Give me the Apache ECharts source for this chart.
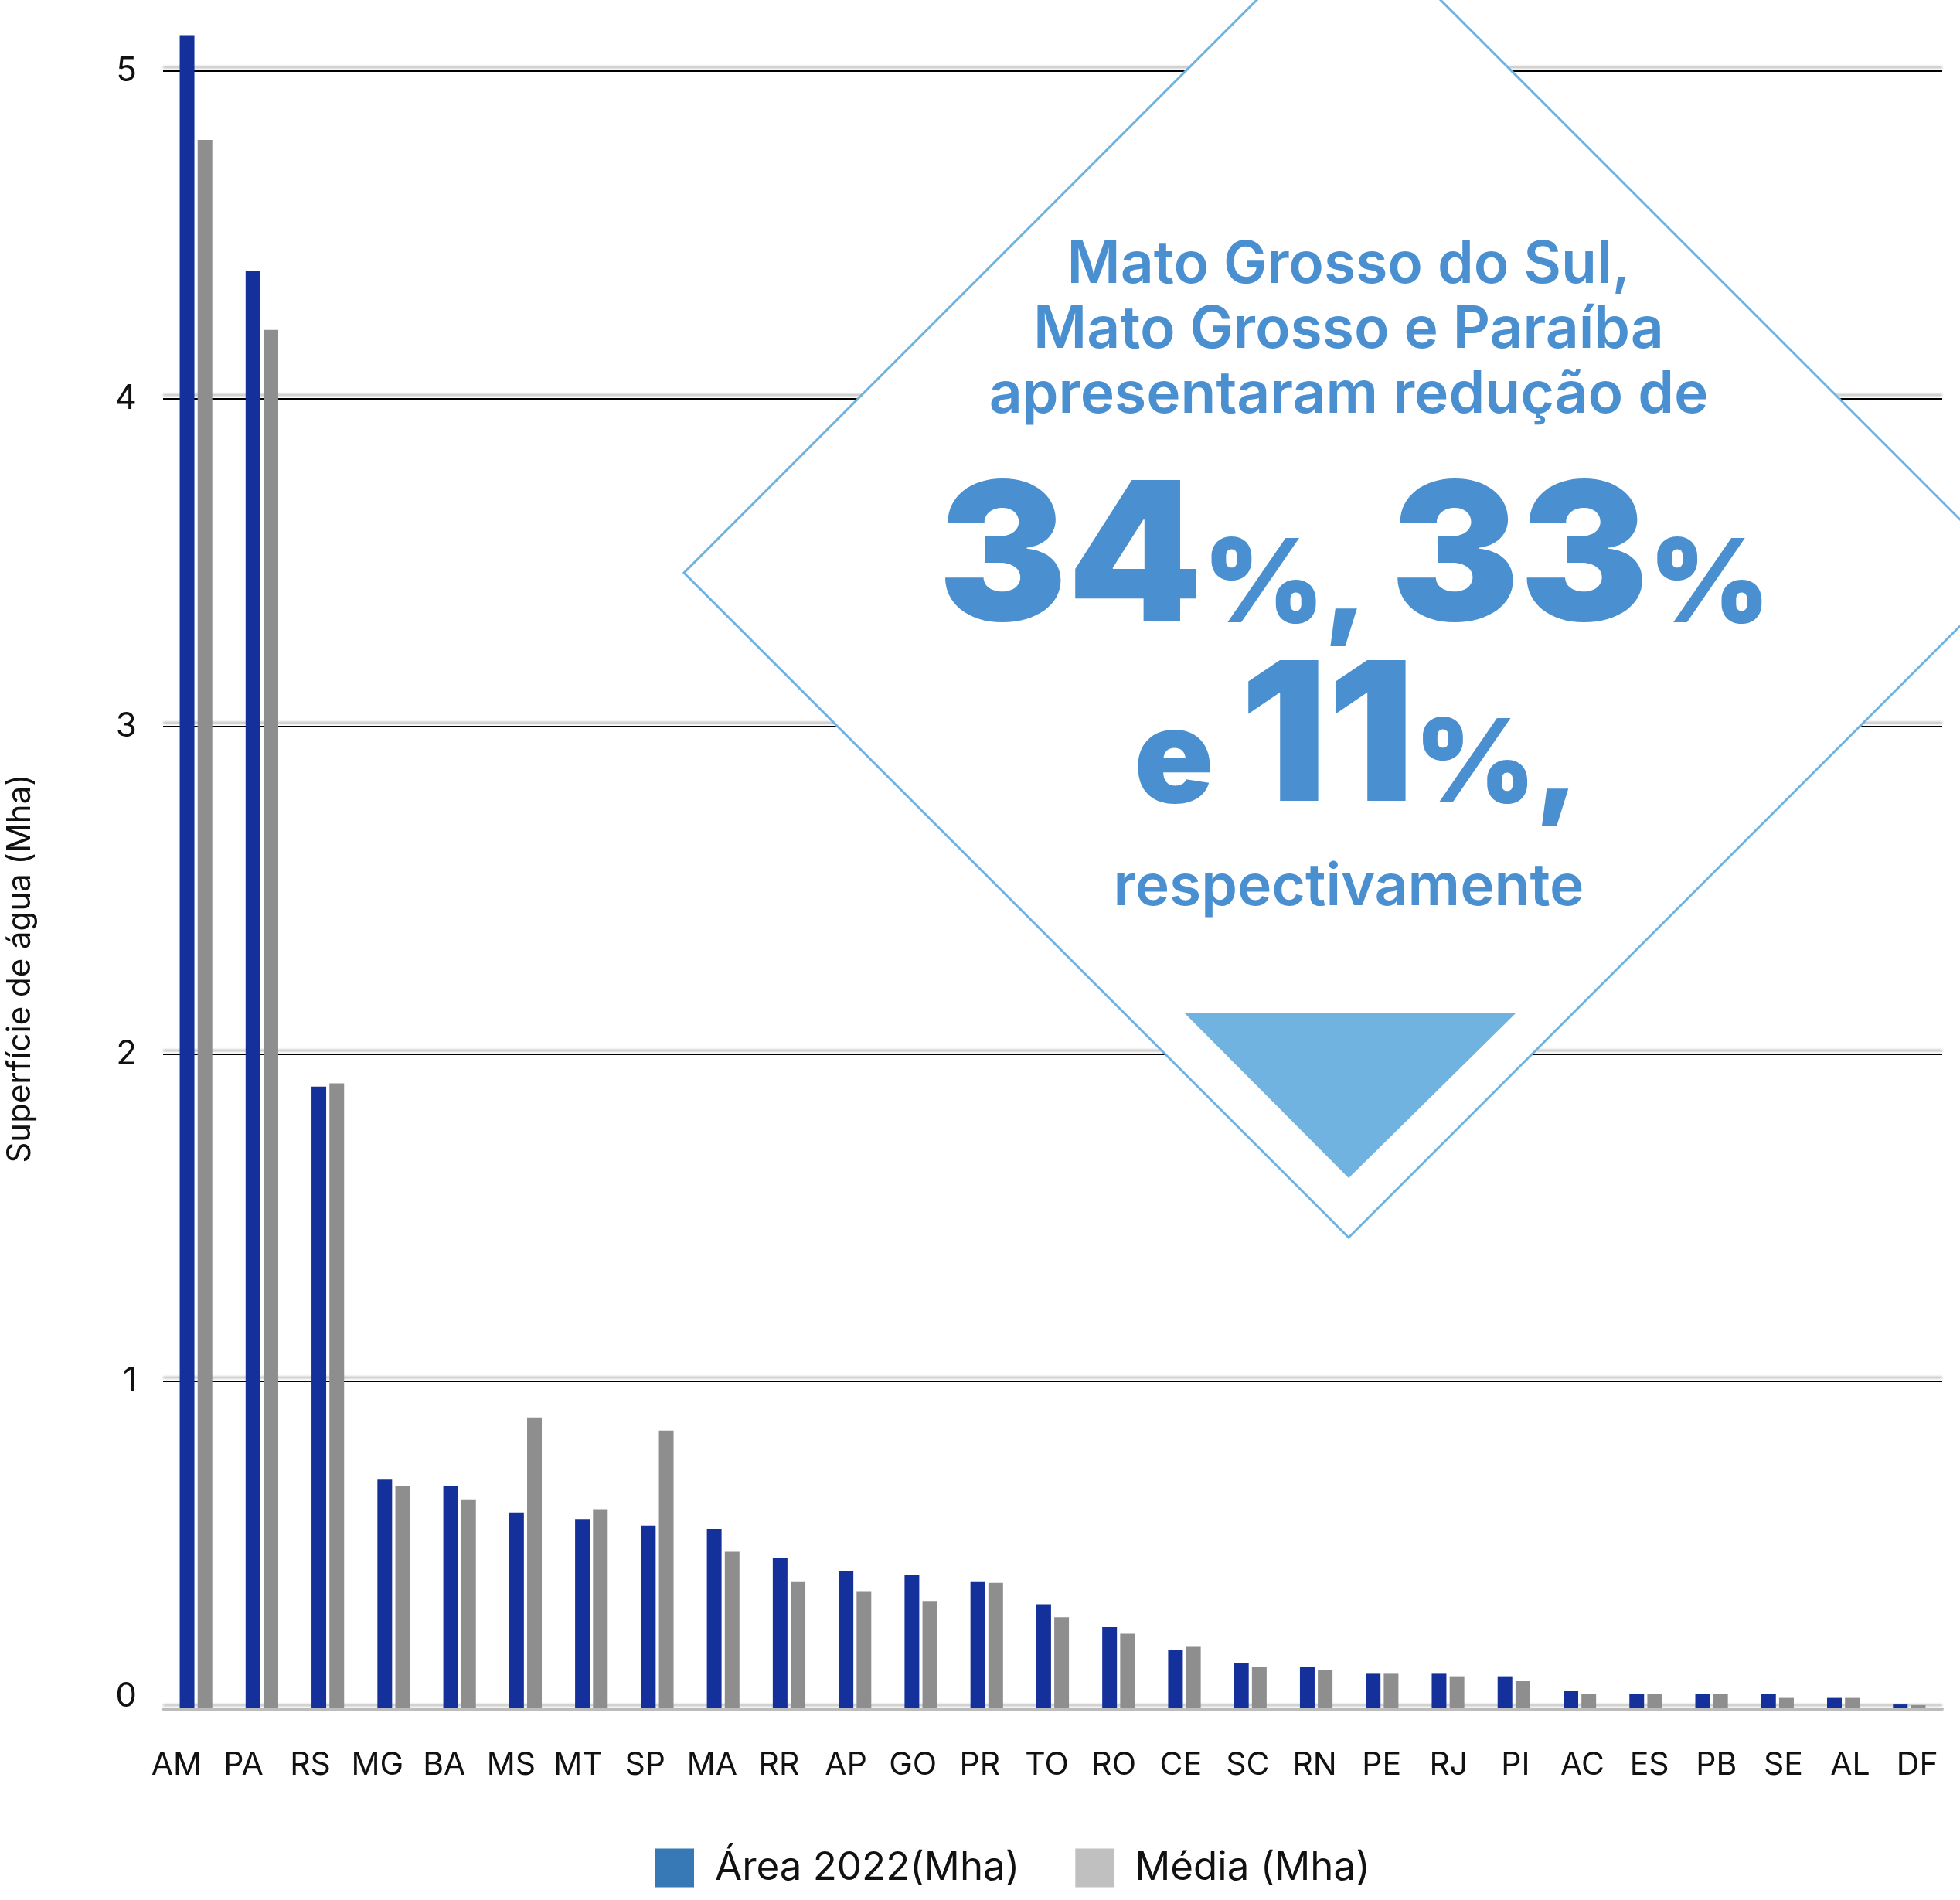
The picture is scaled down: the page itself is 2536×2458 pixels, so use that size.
<!DOCTYPE html>
<html>
<head>
<meta charset="utf-8">
<script src="https://cdn.jsdelivr.net/npm/echarts@6/dist/echarts.min.js"></script>
<style>
  html, body { margin: 0; padding: 0; background: #fff; }
  #chart { width: 2536px; height: 2458px; }
</style>
</head>
<body>
<div id="chart"></div>
<script>
// Superfície de água por estado (Mha)
const categories = ['AM','PA','RS','MG','BA','MS','MT','SP','MA','RR','AP','GO','PR','TO','RO','CE','SC','RN','PE','RJ','PI','AC','ES','PB','SE','AL','DF'];
const area2022 = [5.11, 4.39, 1.90, 0.70, 0.68, 0.60, 0.58, 0.56, 0.55, 0.46, 0.42, 0.41, 0.39, 0.32, 0.25, 0.18, 0.14, 0.13, 0.11, 0.11, 0.10, 0.055, 0.045, 0.045, 0.045, 0.034, 0.014];
const media = [4.79, 4.21, 1.91, 0.68, 0.64, 0.89, 0.61, 0.85, 0.48, 0.39, 0.36, 0.33, 0.385, 0.28, 0.23, 0.19, 0.13, 0.12, 0.11, 0.10, 0.085, 0.045, 0.045, 0.045, 0.034, 0.034, 0.012];
const seriesNames = ['Área 2022(Mha)', 'Média (Mha)'];
const yAxisTitle = 'Superfície de água (Mha)';

const FONT = 'Inter, "Noto Sans", sans-serif';
const TXT_BLUE = '#4a90d0';

const chart = echarts.init(document.getElementById('chart'), null, { renderer: 'canvas' });

// big-number rich styles; bottom padding lifts the smaller glyphs onto the digits' baseline
const bigNum = { fontSize: 250, fontWeight: 900, fontFamily: FONT, fill: TXT_BLUE, verticalAlign: 'bottom' };
const bigPct = { fontSize: 150, fontWeight: 900, fontFamily: FONT, fill: TXT_BLUE, verticalAlign: 'bottom', padding: [0, 0, 18, 0] };
const bigE   = { fontSize: 170, fontWeight: 900, fontFamily: FONT, fill: TXT_BLUE, verticalAlign: 'bottom', padding: [0, 0, 14, 0] };

chart.setOption({
  animation: false,
  backgroundColor: '#ffffff',
  grid: [
    { left: 211, right: 23, top: 92, bottom: 247 },
    { left: 185, right: 12, top: 92, bottom: 247 }
  ],
  legend: {
    left: 843, top: 2386,
    itemWidth: 50, itemHeight: 50, itemGap: 72,
    icon: 'rect',
    textStyle: { fontSize: 51, fontFamily: FONT, color: '#111', padding: [0, 0, 0, 22] },
    data: [
      { name: seriesNames[0], itemStyle: { color: '#3778b7' } },
      { name: seriesNames[1], itemStyle: { color: '#c0c0c0' } }
    ]
  },
  xAxis: [
    {
      type: 'category', gridIndex: 0, data: categories, z: 5,
      axisLine: { show: true, lineStyle: { color: '#bcbcbc', width: 4 } },
      axisTick: { show: false },
      axisLabel: { show: false }
    },
    {
      type: 'category', gridIndex: 1, data: categories,
      axisLine: { show: false },
      axisTick: { show: false },
      axisLabel: { interval: 0, fontSize: 41, fontFamily: FONT, color: '#111', margin: 52 }
    }
  ],
  yAxis: [
    {
      type: 'value', gridIndex: 0, min: 0, max: 5, interval: 1,
      axisLine: { show: false },
      axisTick: { show: false },
      axisLabel: {
        fontSize: 44, fontFamily: FONT, color: '#111', margin: 34,
        formatter: v => (v === 0 ? '{z|0}' : String(v)),
        rich: { z: { fontSize: 44, fontFamily: FONT, color: '#111', padding: [0, 0, 32, 0] } }
      },
      splitLine: {
        lineStyle: {
          color: '#000', width: 2,
          shadowColor: 'rgba(0,0,0,0.35)', shadowBlur: 3, shadowOffsetY: -5
        }
      }
    },
    { type: 'value', gridIndex: 1, min: 0, max: 1, show: false }
  ],
  series: [
    {
      name: seriesNames[0], type: 'bar', xAxisIndex: 0, yAxisIndex: 0,
      data: area2022, barWidth: 19, barGap: '22%', clip: false,
      itemStyle: { color: '#14309a' }
    },
    {
      name: seriesNames[1], type: 'bar', xAxisIndex: 0, yAxisIndex: 0,
      data: media, barWidth: 19, clip: false,
      itemStyle: { color: '#8e8e8e' }
    }
  ],
  graphic: [
    {
      type: 'text', x: 26, y: 1253, rotation: Math.PI / 2,
      style: { text: yAxisTitle, fontSize: 42, fontFamily: FONT, fill: '#111', align: 'center', verticalAlign: 'middle' }
    },
    {
      type: 'polygon', z: 100,
      shape: { points: [[1745, -119], [2605, 741], [1745, 1601], [885, 741]] },
      style: { fill: '#ffffff', stroke: '#6cb2e2', lineWidth: 3 }
    },
    {
      type: 'polygon', z: 101,
      shape: { points: [[1532, 1310], [1962, 1310], [1745, 1524]] },
      style: { fill: '#70b3e0' }
    },
    {
      type: 'text', z: 102, x: 1745, y: 343,
      style: { text: 'Mato Grosso do Sul,', fontSize: 75, fontWeight: 600, fontFamily: FONT, fill: TXT_BLUE, align: 'center', verticalAlign: 'middle' }
    },
    {
      type: 'text', z: 102, x: 1745, y: 427,
      style: { text: 'Mato Grosso e Paraíba', fontSize: 75, fontWeight: 600, fontFamily: FONT, fill: TXT_BLUE, align: 'center', verticalAlign: 'middle' }
    },
    {
      type: 'text', z: 102, x: 1745, y: 511,
      style: { text: 'apresentaram redução de', fontSize: 75, fontWeight: 600, fontFamily: FONT, fill: TXT_BLUE, align: 'center', verticalAlign: 'middle' }
    },
    {
      type: 'text', z: 102, x: 1752, y: 853,
      style: {
        text: '{n|34}{p|%, }{n|33}{p|%}',
        align: 'center', verticalAlign: 'bottom',
        rich: { n: bigNum, p: bigPct }
      }
    },
    {
      type: 'text', z: 102, x: 1755, y: 1086,
      style: {
        text: '{e|e }{n|11}{p|%,}',
        align: 'center', verticalAlign: 'bottom',
        rich: { e: bigE, n: bigNum, p: bigPct }
      }
    },
    {
      type: 'text', z: 102, x: 1745, y: 1148,
      style: { text: 'respectivamente', fontSize: 75, fontWeight: 600, fontFamily: FONT, fill: TXT_BLUE, align: 'center', verticalAlign: 'middle' }
    }
  ]
});
</script>
</body>
</html>
